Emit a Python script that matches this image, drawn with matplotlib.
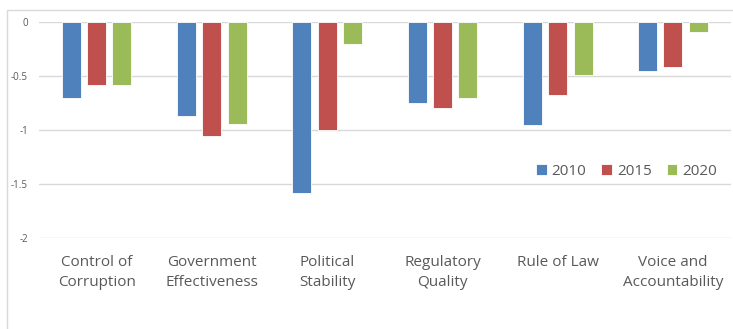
import matplotlib
matplotlib.use("Agg")
import matplotlib.pyplot as plt
import numpy as np
from matplotlib.patches import Rectangle

# Dados
categorias = ["Control of\nCorruption", "Government\nEffectiveness", "Political\nStability",
              "Regulatory\nQuality", "Rule of Law", "Voice and\nAccountability"]
anos = ["2010", "2015", "2020"]
valores_2010 = [-0.70, -0.87, -1.58, -0.75, -0.95, -0.45]
valores_2015 = [-0.58, -1.055, -1.00, -0.80, -0.68, -0.415]
valores_2020 = [-0.58, -0.94, -0.20, -0.70, -0.495, -0.09]
ticks_y = [0, -0.5, -1, -1.5, -2]
rotulos_y = ["0", "-0.5", "-1", "-1.5", "-2"]

cores = ["#4F81BD", "#C0504D", "#9BBB59"]
cinza = "#595959"

plt.rcParams["font.family"] = ["Open Sans", "DejaVu Sans"]

fig = plt.figure(figsize=(7.33, 3.29), dpi=100)

# moldura clara em volta do gráfico
fig.patches.append(Rectangle((7 / 733, -0.1), 1.1, 1.1 - 10 / 329,
                             transform=fig.transFigure, fill=False,
                             edgecolor="#D9D9D9", linewidth=1))

ax = fig.add_axes([0.0532, 0.2766, 0.9435, 0.6565])

x = np.arange(len(categorias))
largura = 0.165
passo = 0.22
for i, (serie, ano) in enumerate(zip([valores_2010, valores_2015, valores_2020], anos)):
    ax.bar(x + (i - 1) * passo, serie, largura, color=cores[i], label=ano,
           edgecolor="white", linewidth=0.6, zorder=3)

ax.set_xlim(-0.5, len(categorias) - 0.5)
ax.set_ylim(-2, 0)
ax.set_yticks(ticks_y)
ax.set_yticklabels(rotulos_y, fontsize=7, color=cinza)
ax.set_xticks(x)
ax.set_xticklabels(categorias, fontsize=11, color=cinza, linespacing=1.45)
ax.tick_params(axis="x", length=0, pad=12)
ax.tick_params(axis="y", length=0, pad=8)
ax.grid(axis="y", color="#D9D9D9", linewidth=1, zorder=0)
for s in ax.spines.values():
    s.set_visible(False)

ax.legend(loc="center right", bbox_to_anchor=(1.0, 0.31), ncol=3, frameon=False,
          fontsize=11, handlelength=0.7, handleheight=0.7, handletextpad=0.3,
          columnspacing=1.0, labelcolor=cinza)

plt.savefig("out.png", dpi=100)
plt.close()
